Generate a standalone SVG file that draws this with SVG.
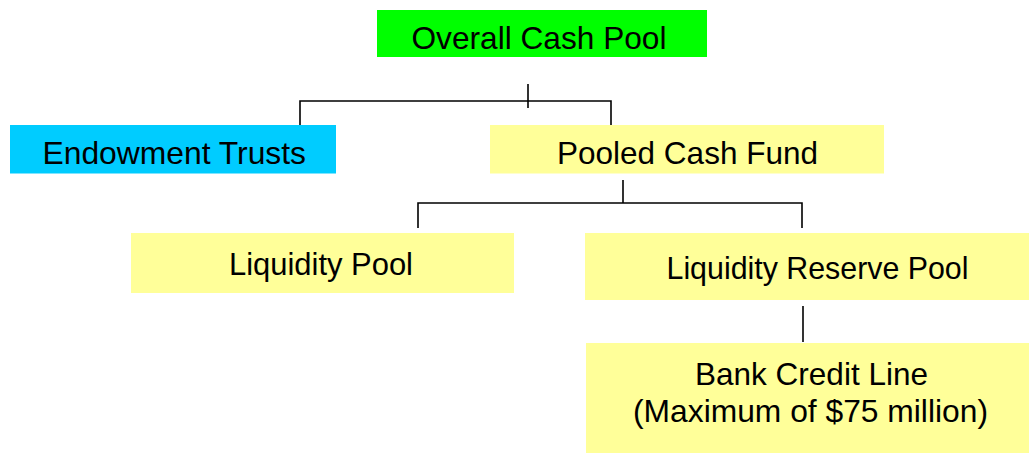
<svg xmlns="http://www.w3.org/2000/svg" width="1029" height="453" viewBox="0 0 1029 453">
<style>
.t{font-family:"Liberation Sans",Arial,sans-serif;font-size:31.5px;fill:#000;text-anchor:start}
.y{fill:#FFFF99}
.c{stroke:#000;stroke-width:1.6;fill:none}
</style>
<rect width="1029" height="453" fill="#fff"/>
<g id="connectors">
<path class="c" d="M528 84V108M300 101H611M300 100.2V125M611 100.2V125"/>
<path class="c" d="M623 180V203M418 203H802M418 202.2V228M802 202.2V228"/>
<path class="c" d="M803 306V342"/>
</g>
<g id="overall">
<rect x="377" y="10" width="330" height="47" fill="#00FF00"/>
<text class="t" x="411.5" y="49" textLength="255" lengthAdjust="spacingAndGlyphs">Overall Cash Pool</text>
</g>
<g id="endowment">
<rect x="10" y="125" width="326" height="48.5" fill="#00CCFF"/>
<text class="t" x="42.5" y="164" textLength="263.5" lengthAdjust="spacingAndGlyphs">Endowment Trusts</text>
</g>
<g id="pooled">
<rect class="y" x="490" y="125" width="394" height="48.5"/>
<text class="t" x="557" y="164" textLength="261" lengthAdjust="spacingAndGlyphs">Pooled Cash Fund</text>
</g>
<g id="liquidity">
<rect class="y" x="131" y="233" width="383" height="60"/>
<text class="t" x="229" y="275" textLength="184" lengthAdjust="spacingAndGlyphs">Liquidity Pool</text>
</g>
<g id="reserve">
<rect class="y" x="585" y="233" width="444" height="67"/>
<text class="t" x="666.5" y="278.5" textLength="302" lengthAdjust="spacingAndGlyphs">Liquidity Reserve Pool</text>
</g>
<g id="bank">
<rect class="y" x="586" y="343" width="443" height="110"/>
<text class="t" x="695" y="385" textLength="233" lengthAdjust="spacingAndGlyphs">Bank Credit Line</text>
<text class="t" x="633" y="422" textLength="355" lengthAdjust="spacingAndGlyphs">(Maximum of $75 million)</text>
</g>
</svg>
